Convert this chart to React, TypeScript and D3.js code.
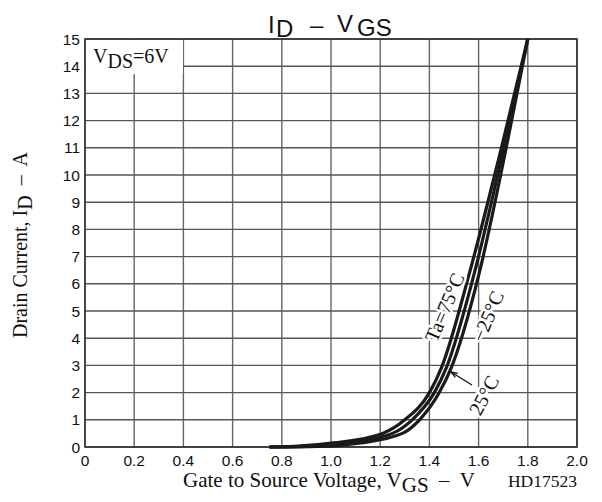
import * as d3 from "d3";

// gate voltage / drain current
const vgs75 = [0.75, 0.85, 1.01, 1.21, 1.3, 1.4, 1.45, 1.56, 1.69, 1.8];
const id75 = [0, 0.02, 0.15, 0.5, 1.0, 2.0, 2.94, 6.3, 10.9, 15];
const vgs25 = [0.75, 0.9, 1.07, 1.25, 1.33, 1.42, 1.47, 1.58, 1.7, 1.8];
const id25 = [0, 0.02, 0.15, 0.5, 1.0, 2.0, 2.94, 6.3, 10.9, 15];
const vgsM25 = [0.75, 0.95, 1.12, 1.29, 1.36, 1.44, 1.49, 1.6, 1.71, 1.8];
const idM25 = [0, 0.02, 0.15, 0.5, 1.0, 2.0, 2.94, 6.3, 10.9, 15];

const xTicks = [0, 0.2, 0.4, 0.6, 0.8, 1.0, 1.2, 1.4, 1.6, 1.8, 2.0];
const xTickLabels = ["0", "0.2", "0.4", "0.6", "0.8", "1.0", "1.2", "1.4", "1.6", "1.8", "2.0"];
const yTicks = [0, 1, 2, 3, 4, 5, 6, 7, 8, 9, 10, 11, 12, 13, 14, 15];

const serif = "'Liberation Serif', 'Times New Roman', serif";
const sans = "'Liberation Sans', Arial, sans-serif";
const pre = { whiteSpace: "pre" as const };

export default function App() {
  const x = d3.scaleLinear().domain([0, 2]).range([85, 577]);
  const y = d3.scaleLinear().domain([0, 15]).range([447, 39]);

  const line = d3
    .line<[number, number]>()
    .x((d) => x(d[0]))
    .y((d) => y(d[1]))
    .curve(d3.curveMonotoneX);

  const series = [
    vgs75.map((v, i) => [v, id75[i]] as [number, number]),
    vgs25.map((v, i) => [v, id25[i]] as [number, number]),
    vgsM25.map((v, i) => [v, idM25[i]] as [number, number]),
  ];

  const halo = { stroke: "#fff", strokeWidth: 5, paintOrder: "stroke" as const, strokeLinejoin: "round" as const };

  // arrow from "25°C" label to the middle curve
  const a0: [number, number] = [x(1.573), y(2.28)];
  const a1: [number, number] = [x(1.488), y(2.76)];
  const ang = Math.atan2(a1[1] - a0[1], a1[0] - a0[0]);
  const head = (s: number) => [a1[0] - 7 * Math.cos(ang + s), a1[1] - 7 * Math.sin(ang + s)];
  const h1 = head(0.35);
  const h2 = head(-0.35);

  return (
    <svg width={602} height={502} style={{ position: "absolute", left: 0, top: 0, background: "#fff" }}>
      {/* grid */}
      {xTicks.map((t) => (
        <line key={"gx" + t} x1={x(t)} x2={x(t)} y1={y(0)} y2={y(15)} stroke="#666" strokeWidth={1.4} />
      ))}
      {yTicks.map((t) => (
        <line key={"gy" + t} x1={x(0)} x2={x(2)} y1={y(t)} y2={y(t)} stroke="#555" strokeWidth={1.4} />
      ))}
      <rect x={x(0)} y={y(15)} width={x(2) - x(0)} height={y(0) - y(15)} fill="none" stroke="#333" strokeWidth={1.6} />

      {/* VDS box */}
      <rect x={x(0) + 1} y={y(15) + 1} width={97} height={34} fill="#fff" />
      <text x={93} y={63} fontFamily={serif} fontSize={20} fill="#111">
        V<tspan dy={5}>DS</tspan><tspan dy={-5}>=6V</tspan>
      </text>

      {/* curves */}
      {series.map((s, i) => (
        <path key={"c" + i} d={line(s) ?? ""} fill="none" stroke="#1a1a1a" strokeWidth={3.2} />
      ))}

      {/* curve labels */}
      <text transform={`translate(${x(1.47)},${y(5.1)}) rotate(-67)`} textAnchor="middle" dominantBaseline="middle"
        fontFamily={serif} fontSize={20} fill="#111" style={halo}>Ta=75°C</text>
      <text transform={`translate(${x(1.646)},${y(4.77)}) rotate(-67)`} textAnchor="middle" dominantBaseline="middle"
        fontFamily={serif} fontSize={20} fill="#111" style={halo}>−25°C</text>
      <text transform={`translate(${x(1.63)},${y(1.86)}) rotate(-62)`} textAnchor="middle" dominantBaseline="middle"
        fontFamily={serif} fontSize={20} fill="#111" style={halo}>25°C</text>
      <line x1={a0[0]} y1={a0[1]} x2={a1[0]} y2={a1[1]} stroke="#111" strokeWidth={1.3} />
      <path d={`M${h1[0]},${h1[1]}L${a1[0]},${a1[1]}L${h2[0]},${h2[1]}`} fill="none" stroke="#111" strokeWidth={1.3} />

      {/* tick labels */}
      {xTicks.map((t, i) => (
        <text key={"tx" + t} x={x(t)} y={466} textAnchor="middle" fontFamily={sans} fontSize={15.5} fill="#111">
          {xTickLabels[i]}
        </text>
      ))}
      {yTicks.map((t) => (
        <text key={"ty" + t} x={80} y={y(t) + 5.5} textAnchor="end" fontFamily={sans} fontSize={15.5} fill="#111">
          {t}
        </text>
      ))}

      {/* title */}
      <text y={33} fontFamily={sans} fontSize={24} fill="#111">
        <tspan x={268}>I</tspan>
        <tspan x={276} dy={4}>D</tspan>
        <tspan x={310} dy={-4}>–</tspan>
        <tspan x={337} dy={-1}>V</tspan>
        <tspan x={357} dy={4}>GS</tspan>
      </text>

      {/* axis titles */}
      <text x={183} y={487} fontFamily={serif} fontSize={21} fill="#111" style={pre}>
        Gate to Source Voltage, V<tspan dy={5}>GS</tspan><tspan dy={-5}>{"  –  V"}</tspan>
      </text>
      <text x={577} y={487} textAnchor="end" fontFamily={serif} fontSize={17.5} fill="#111">HD17523</text>
      <text transform="translate(27,245) rotate(-90)" textAnchor="middle" fontFamily={serif} fontSize={20} fill="#111" style={pre}>
        Drain Current, I<tspan dy={5}>D</tspan><tspan dy={-5}>{"  –  A"}</tspan>
      </text>
    </svg>
  );
}
